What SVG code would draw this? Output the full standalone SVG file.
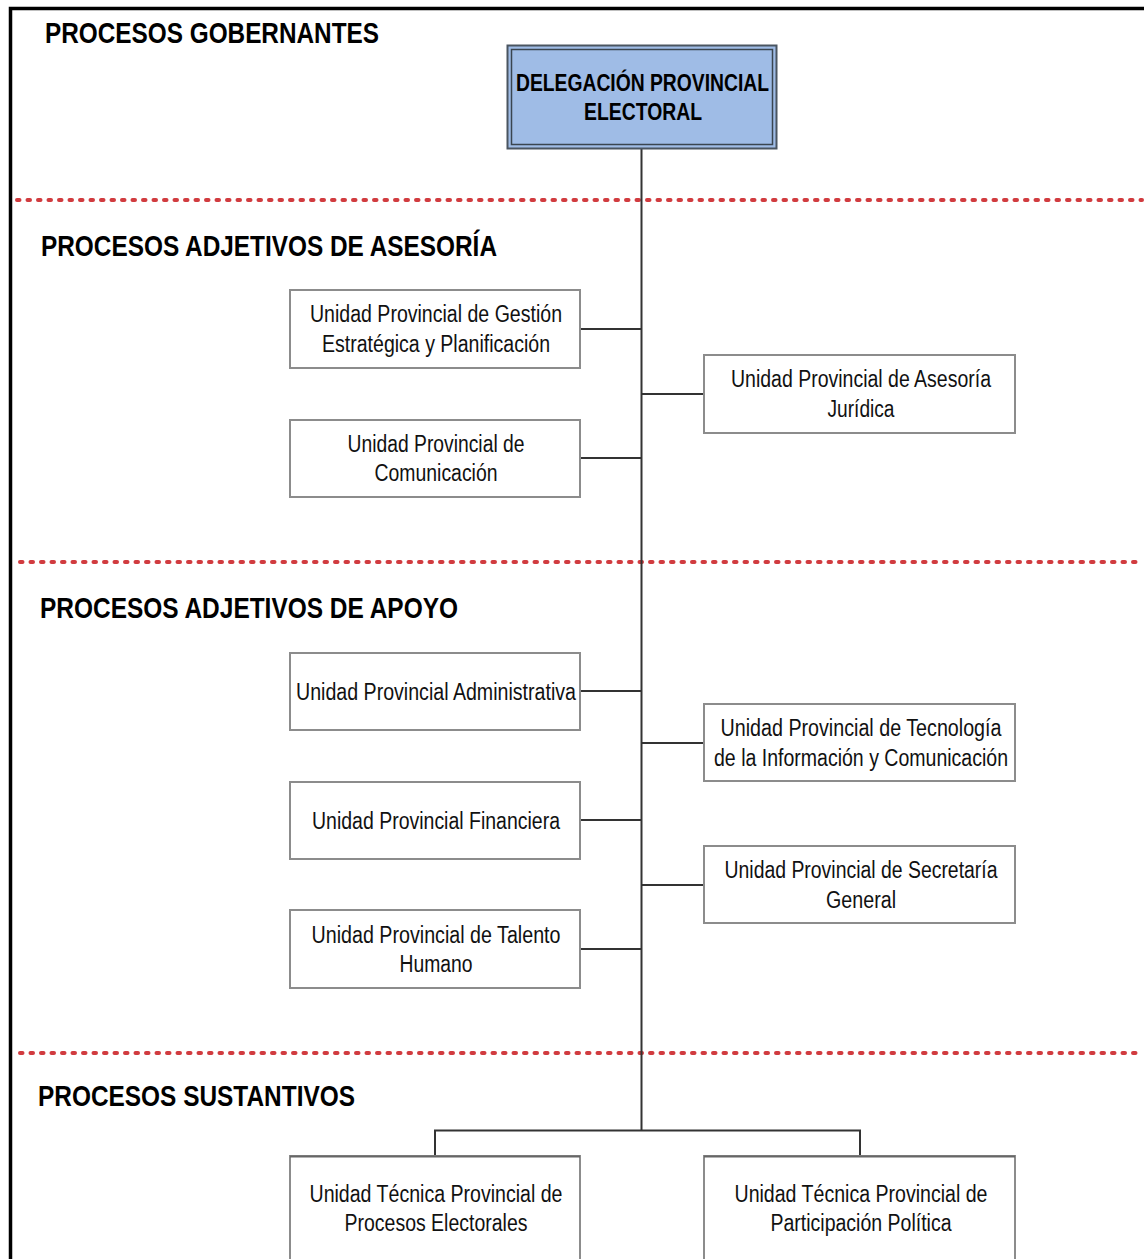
<svg xmlns="http://www.w3.org/2000/svg" width="1144" height="1259" viewBox="0 0 1144 1259">
<style>
.title{font-family:"Liberation Sans",Arial,sans-serif;font-weight:bold;font-size:30px;fill:#000}
.dt{font-family:"Liberation Sans",Arial,sans-serif;font-weight:bold;font-size:23px;fill:#000}
.t{font-family:"Liberation Sans",Arial,sans-serif;font-size:23px;fill:#111;text-anchor:middle}
.box{fill:#fff;stroke:#8c8c8c;stroke-width:2}
.sep{stroke:#d13b3f;stroke-width:4;stroke-linecap:round;stroke-dasharray:2.5 8;fill:none}
.con{stroke:#333;stroke-width:2;fill:none}
</style>
<rect width="1144" height="1259" fill="#fff"/>
<g id="frame">
<path d="M10.5 1259 V8.5 H1144" fill="none" stroke="#000" stroke-width="3.5"/>
</g>
<g id="separators">
<line class="sep" x1="17" y1="200" x2="1142" y2="200"/>
<line class="sep" x1="20" y1="562" x2="1142" y2="562"/>
<line class="sep" x1="20" y1="1053" x2="1142" y2="1053"/>
</g>
<g id="titles">
<text class="title" x="45" y="43" textLength="334" lengthAdjust="spacingAndGlyphs">PROCESOS GOBERNANTES</text>
<text class="title" x="41" y="256" textLength="456" lengthAdjust="spacingAndGlyphs">PROCESOS ADJETIVOS DE ASESORÍA</text>
<text class="title" x="40" y="618" textLength="418" lengthAdjust="spacingAndGlyphs">PROCESOS ADJETIVOS DE APOYO</text>
<text class="title" x="38" y="1106" textLength="317" lengthAdjust="spacingAndGlyphs">PROCESOS SUSTANTIVOS</text>
</g>
<g id="connectors">
<line class="con" x1="641.5" y1="149" x2="641.5" y2="1131"/>
<line class="con" x1="580" y1="329" x2="641.5" y2="329"/>
<line class="con" x1="641.5" y1="394" x2="704" y2="394"/>
<line class="con" x1="580" y1="458" x2="641.5" y2="458"/>
<line class="con" x1="580" y1="691" x2="641.5" y2="691"/>
<line class="con" x1="641.5" y1="743" x2="704" y2="743"/>
<line class="con" x1="580" y1="820" x2="641.5" y2="820"/>
<line class="con" x1="641.5" y1="885" x2="704" y2="885"/>
<line class="con" x1="580" y1="949" x2="641.5" y2="949"/>
<path class="con" d="M435 1156 V1130.5 H860 V1156"/>
</g>
<g id="delegacion">
<rect x="507.5" y="45.5" width="269" height="103" fill="#9fbce6" stroke="#4a5560" stroke-width="2"/>
<rect x="511.5" y="49.5" width="261" height="95" fill="none" stroke="#3a4550" stroke-width="1.5"/>
<text class="dt" x="516" y="91" textLength="253" lengthAdjust="spacingAndGlyphs">DELEGACIÓN PROVINCIAL</text>
<text class="dt" x="584" y="120" textLength="118" lengthAdjust="spacingAndGlyphs">ELECTORAL</text>
</g>
<g id="gestion">
<rect class="box" x="290" y="290" width="290" height="78"/>
<text class="t" x="436" y="322" textLength="252" lengthAdjust="spacingAndGlyphs">Unidad Provincial de Gestión</text>
<text class="t" x="436" y="352" textLength="228" lengthAdjust="spacingAndGlyphs">Estratégica y Planificación</text>
</g>
<g id="asesoria">
<rect class="box" x="704" y="355" width="311" height="78"/>
<text class="t" x="861" y="387" textLength="260" lengthAdjust="spacingAndGlyphs">Unidad Provincial de Asesoría</text>
<text class="t" x="861" y="417" textLength="67" lengthAdjust="spacingAndGlyphs">Jurídica</text>
</g>
<g id="comunicacion">
<rect class="box" x="290" y="420" width="290" height="77"/>
<text class="t" x="436" y="452" textLength="177" lengthAdjust="spacingAndGlyphs">Unidad Provincial de</text>
<text class="t" x="436" y="481" textLength="123" lengthAdjust="spacingAndGlyphs">Comunicación</text>
</g>
<g id="administrativa">
<rect class="box" x="290" y="653" width="290" height="77"/>
<text class="t" x="436" y="700" textLength="280" lengthAdjust="spacingAndGlyphs">Unidad Provincial Administrativa</text>
</g>
<g id="tecnologia">
<rect class="box" x="704" y="704" width="311" height="77" stroke="#333"/>
<text class="t" x="861" y="736" textLength="281" lengthAdjust="spacingAndGlyphs">Unidad Provincial de Tecnología</text>
<text class="t" x="861" y="766" textLength="294" lengthAdjust="spacingAndGlyphs">de la Información y Comunicación</text>
</g>
<g id="financiera">
<rect class="box" x="290" y="782" width="290" height="77"/>
<text class="t" x="436" y="829" textLength="248" lengthAdjust="spacingAndGlyphs">Unidad Provincial Financiera</text>
</g>
<g id="secretaria">
<rect class="box" x="704" y="846" width="311" height="77"/>
<text class="t" x="861" y="878" textLength="273" lengthAdjust="spacingAndGlyphs">Unidad Provincial de Secretaría</text>
<text class="t" x="861" y="908" textLength="70" lengthAdjust="spacingAndGlyphs">General</text>
</g>
<g id="talento">
<rect class="box" x="290" y="910" width="290" height="78"/>
<text class="t" x="436" y="943" textLength="249" lengthAdjust="spacingAndGlyphs">Unidad Provincial de Talento</text>
<text class="t" x="436" y="972" textLength="73" lengthAdjust="spacingAndGlyphs">Humano</text>
</g>
<g id="procesos-electorales">
<rect class="box" x="290" y="1156" width="290" height="110"/>
<line x1="290" y1="1156.5" x2="580" y2="1156.5" stroke="#666" stroke-width="2"/>
<text class="t" x="436" y="1202" textLength="253" lengthAdjust="spacingAndGlyphs">Unidad Técnica Provincial de</text>
<text class="t" x="436" y="1231" textLength="183" lengthAdjust="spacingAndGlyphs">Procesos Electorales</text>
</g>
<g id="participacion-politica">
<rect class="box" x="704" y="1156" width="311" height="110"/>
<line x1="704" y1="1156.5" x2="1015" y2="1156.5" stroke="#666" stroke-width="2"/>
<text class="t" x="861" y="1202" textLength="253" lengthAdjust="spacingAndGlyphs">Unidad Técnica Provincial de</text>
<text class="t" x="861" y="1231" textLength="181" lengthAdjust="spacingAndGlyphs">Participación Política</text>
</g>
</svg>
